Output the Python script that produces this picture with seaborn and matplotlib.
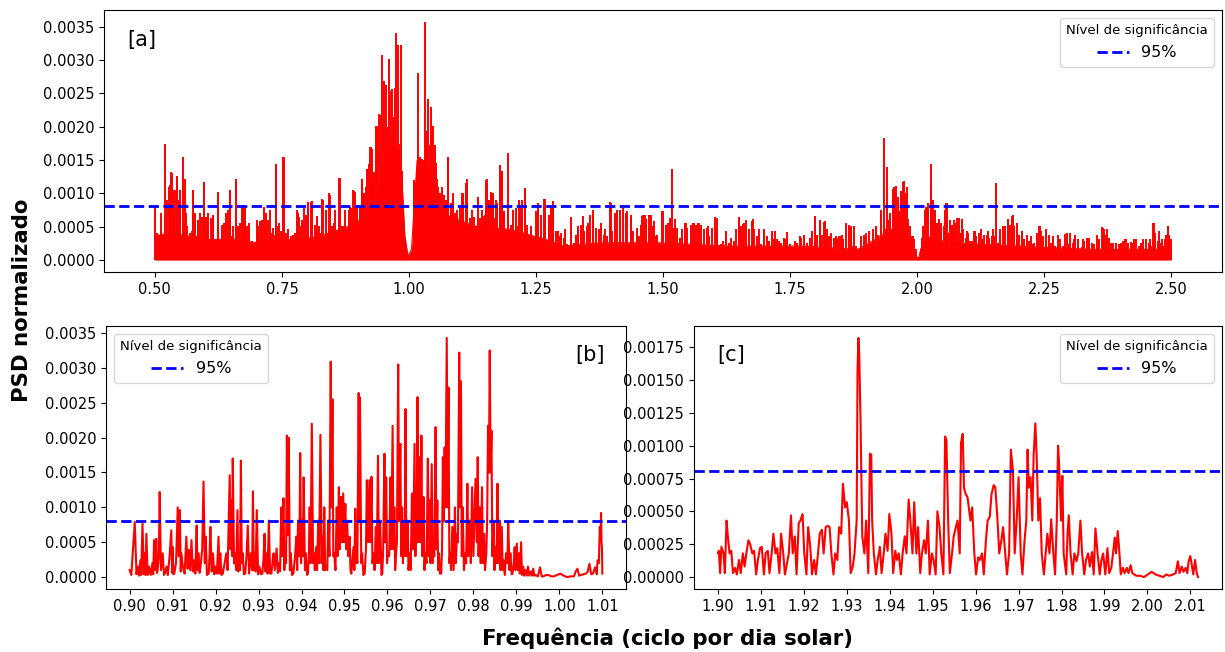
import numpy as np
import pandas as pd
import matplotlib
matplotlib.use("Agg")
import matplotlib.pyplot as plt
from matplotlib.ticker import MultipleLocator, FormatStrFormatter
import seaborn as sns

# ---------------- data ----------------
sig_level = 0.00081
legend_title = "Nível de significância"
legend_label = "95%"

# panel [a]: lower envelope of the dense periodogram
a_base_freq = [0.500, 0.530, 0.601, 0.671, 0.692, 0.741, 0.784, 0.826, 0.882, 0.917,
               0.938, 0.952, 0.966, 0.980, 0.987, 0.992, 0.998, 1.005, 1.010, 1.016,
               1.030, 1.044, 1.058, 1.079, 1.128, 1.198, 1.269, 1.304, 1.374, 1.444,
               1.492, 1.634, 1.776, 1.883, 1.918, 1.947, 1.975, 1.990, 2.002, 2.007,
               2.018, 2.061, 2.203, 2.345, 2.500]
a_base_psd = [0.00036, 0.00041, 0.00031, 0.00031, 0.00026, 0.00031, 0.00031, 0.00036, 0.00051, 0.00066,
              0.00095, 0.00149, 0.00174, 0.00164, 0.00110, 0.00036, 0.00006, 0.00016, 0.00075, 0.00149,
              0.00149, 0.00134, 0.00095, 0.00066, 0.00051, 0.00046, 0.00031, 0.00021, 0.00026, 0.00026,
              0.00026, 0.00021, 0.00021, 0.00016, 0.00031, 0.00046, 0.00041, 0.00021, 0.00000, 0.00016,
              0.00036, 0.00026, 0.00021, 0.00016, 0.00016]

# panel [a]: main peaks
a_peak_freq = [0.500, 0.509, 0.520, 0.527, 0.533, 0.537, 0.544, 0.550, 0.556, 0.562,
               0.575, 0.580, 0.587, 0.596, 0.604, 0.615, 0.625, 0.636, 0.648, 0.654,
               0.660, 0.666, 0.673, 0.678, 0.685, 0.692, 0.703, 0.715, 0.727, 0.739,
               0.745, 0.753, 0.762, 0.781, 0.794, 0.801, 0.810, 0.820, 0.829, 0.843,
               0.854, 0.864, 0.875, 0.884, 0.892, 0.903, 0.908, 0.912, 0.917, 0.923,
               0.928, 0.931, 0.935, 0.938, 0.942, 0.945, 0.947, 0.950, 0.952, 0.954,
               0.958, 0.961, 0.963, 0.966, 0.969, 0.972, 0.975, 0.978, 0.980, 0.985,
               0.987, 1.010, 1.013, 1.017, 1.020, 1.025, 1.028, 1.031, 1.035, 1.038,
               1.041, 1.044, 1.047, 1.051, 1.054, 1.058, 1.065, 1.072, 1.077, 1.086,
               1.093, 1.106, 1.115, 1.125, 1.135, 1.146, 1.153, 1.158, 1.163, 1.170,
               1.179, 1.183, 1.188, 1.195, 1.205, 1.216, 1.229, 1.240, 1.254, 1.267,
               1.276, 1.284, 1.297, 1.307, 1.318, 1.332, 1.342, 1.353, 1.363, 1.374,
               1.385, 1.397, 1.406, 1.416, 1.427, 1.437, 1.448, 1.458, 1.465, 1.479,
               1.486, 1.499, 1.517, 1.524, 1.545, 1.560, 1.570, 1.588, 1.606, 1.624,
               1.650, 1.659, 1.677, 1.698, 1.720, 1.741, 1.769, 1.799, 1.808, 1.819,
               1.840, 1.869, 1.890, 1.906, 1.919, 1.928, 1.934, 1.940, 1.947, 1.954,
               1.958, 1.963, 1.968, 1.975, 1.980, 1.982, 1.990, 1.997, 2.011, 2.017,
               2.022, 2.027, 2.031, 2.036, 2.043, 2.054, 2.059, 2.068, 2.078, 2.088,
               2.100, 2.114, 2.125, 2.139, 2.149, 2.155, 2.164, 2.178, 2.189, 2.196,
               2.206, 2.224, 2.242, 2.253, 2.267, 2.281, 2.295, 2.309, 2.327, 2.338,
               2.356, 2.366, 2.373, 2.391, 2.409, 2.427, 2.444, 2.459, 2.467, 2.476,
               2.487, 2.494, 2.500]
a_peak_psd = [0.00080, 0.00038, 0.00174, 0.00110, 0.00131, 0.00105, 0.00126, 0.00103, 0.00154, 0.00071,
              0.00105, 0.00071, 0.00043, 0.00116, 0.00071, 0.00066, 0.00101, 0.00056, 0.00105, 0.00051,
              0.00121, 0.00051, 0.00083, 0.00080, 0.00056, 0.00029, 0.00051, 0.00080, 0.00075, 0.00144,
              0.00056, 0.00154, 0.00046, 0.00071, 0.00080, 0.00086, 0.00088, 0.00066, 0.00092, 0.00100,
              0.00075, 0.00123, 0.00075, 0.00080, 0.00103, 0.00080, 0.00122, 0.00101, 0.00137, 0.00169,
              0.00167, 0.00125, 0.00201, 0.00201, 0.00219, 0.00218, 0.00307, 0.00268, 0.00194, 0.00263,
              0.00199, 0.00302, 0.00254, 0.00256, 0.00214, 0.00258, 0.00340, 0.00322, 0.00174, 0.00322,
              0.00134, 0.00116, 0.00115, 0.00281, 0.00152, 0.00152, 0.00145, 0.00357, 0.00194, 0.00241,
              0.00172, 0.00230, 0.00201, 0.00172, 0.00145, 0.00110, 0.00103, 0.00080, 0.00154, 0.00100,
              0.00071, 0.00101, 0.00121, 0.00075, 0.00095, 0.00066, 0.00121, 0.00090, 0.00101, 0.00063,
              0.00143, 0.00134, 0.00066, 0.00160, 0.00075, 0.00090, 0.00108, 0.00051, 0.00075, 0.00092,
              0.00068, 0.00088, 0.00036, 0.00046, 0.00041, 0.00046, 0.00066, 0.00056, 0.00068, 0.00036,
              0.00046, 0.00086, 0.00071, 0.00075, 0.00056, 0.00061, 0.00036, 0.00066, 0.00068, 0.00051,
              0.00036, 0.00073, 0.00136, 0.00061, 0.00056, 0.00056, 0.00056, 0.00051, 0.00063, 0.00043,
              0.00063, 0.00056, 0.00061, 0.00046, 0.00043, 0.00031, 0.00036, 0.00066, 0.00056, 0.00058,
              0.00036, 0.00051, 0.00036, 0.00043, 0.00051, 0.00075, 0.00183, 0.00140, 0.00071, 0.00110,
              0.00111, 0.00095, 0.00103, 0.00119, 0.00110, 0.00061, 0.00036, 0.00016, 0.00051, 0.00080,
              0.00085, 0.00144, 0.00090, 0.00075, 0.00061, 0.00075, 0.00085, 0.00051, 0.00063, 0.00062,
              0.00041, 0.00043, 0.00046, 0.00043, 0.00046, 0.00116, 0.00046, 0.00061, 0.00067, 0.00056,
              0.00043, 0.00036, 0.00051, 0.00046, 0.00036, 0.00031, 0.00041, 0.00031, 0.00031, 0.00033,
              0.00031, 0.00048, 0.00046, 0.00026, 0.00031, 0.00031, 0.00031, 0.00031, 0.00056, 0.00043,
              0.00031, 0.00051, 0.00031]

# panel [a]: secondary peaks (the dense "forest")
a_minor_freq = [0.5046, 0.5112, 0.5243, 0.5289, 0.5322, 0.5354, 0.5407, 0.5440, 0.5473, 0.5505,
                0.5591, 0.5637, 0.5683, 0.5722, 0.5755, 0.5801, 0.5847, 0.5886, 0.5932, 0.5965,
                0.6011, 0.6050, 0.6096, 0.6148, 0.6194, 0.6247, 0.6280, 0.6312, 0.6358, 0.6404,
                0.6437, 0.6477, 0.6522, 0.6562, 0.6601, 0.6641, 0.6680, 0.6719, 0.6772, 0.6818,
                0.6850, 0.6916, 0.6969, 0.7015, 0.7067, 0.7113, 0.7159, 0.7192, 0.7231, 0.7277,
                0.7323, 0.7362, 0.7389, 0.7428, 0.7474, 0.7533, 0.7572, 0.7625, 0.7671, 0.7717,
                0.7756, 0.7802, 0.7835, 0.7868, 0.7900, 0.7946, 0.7979, 0.8019, 0.8064, 0.8097,
                0.8143, 0.8182, 0.8228, 0.8268, 0.8314, 0.8360, 0.8406, 0.8438, 0.8478, 0.8530,
                0.8576, 0.8622, 0.8675, 0.8721, 0.8766, 0.8819, 0.8865, 0.8898, 0.8937, 0.8983,
                0.9029, 0.9068, 0.9108, 0.9147, 0.9180, 0.9213, 0.9246, 0.9278, 0.9318, 1.0098,
                1.0131, 1.0164, 1.0210, 1.0249, 1.0295, 1.0328, 1.0361, 1.0394, 1.0459, 1.0492,
                1.0525, 1.0558, 1.0604, 1.0643, 1.0689, 1.0735, 1.0774, 1.0820, 1.0866, 1.0906,
                1.0951, 1.0997, 1.1037, 1.1070, 1.1116, 1.1148, 1.1194, 1.1234, 1.1280, 1.1312,
                1.1358, 1.1398, 1.1444, 1.1496, 1.1522, 1.1575, 1.1621, 1.1660, 1.1706, 1.1725,
                1.1791, 1.1824, 1.1870, 1.2001, 1.2047, 1.2100, 1.2132, 1.2198, 1.2231, 1.2283,
                1.2329, 1.2395, 1.2447, 1.2506, 1.2546, 1.2592, 1.2657, 1.2710, 1.2756, 1.2788,
                1.2834, 1.2887, 1.2933, 1.2985, 1.3051, 1.3103, 1.3182, 1.3248, 1.3294, 1.3333,
                1.3392, 1.3445, 1.3497, 1.3563, 1.3628, 1.3674, 1.3740, 1.3786, 1.3838, 1.3904,
                1.3956, 1.4002, 1.4088, 1.4153, 1.4219, 1.4265, 1.4298, 1.4363, 1.4416, 1.4481,
                1.4527, 1.4560, 1.4613, 1.4659, 1.4724, 1.4757, 1.4823, 1.4875, 1.4934, 1.4987,
                1.5052, 1.5098, 1.5138, 1.5216, 1.5282, 1.5334, 1.5380, 1.5426, 1.5479, 1.5544,
                1.5597, 1.5643, 1.5689, 1.5741, 1.5807, 1.5859, 1.5905, 1.5971, 1.6023, 1.6069,
                1.6135, 1.6187, 1.6233, 1.6299, 1.6345, 1.6397, 1.6443, 1.6496, 1.6542, 1.6581,
                1.6627, 1.6693, 1.6745, 1.6791, 1.6844, 1.6890, 1.6935, 1.6988, 1.7040, 1.7093,
                1.7139, 1.7185, 1.7237, 1.7283, 1.7329, 1.7382, 1.7447, 1.7500, 1.7546, 1.7598,
                1.7644, 1.7710, 1.7775, 1.7841, 1.7893, 1.7939, 1.7985, 1.8025, 1.8084, 1.8136,
                1.8169, 1.8222, 1.8268, 1.8313, 1.8366, 1.8419, 1.8465, 1.8498, 1.8530, 1.8544,
                1.8609, 1.8662, 1.8714, 1.8760, 1.8806, 1.8859, 1.8905, 1.8957, 1.9003, 1.9056,
                1.9101, 1.9141, 1.9187, 1.9239, 1.9285, 1.9384, 1.9436, 1.9482, 1.9528, 1.9567,
                1.9613, 1.9646, 1.9685, 1.9731, 1.9777, 1.9810, 1.9856, 1.9909, 1.9941, 1.9987,
                2.0027, 2.0073, 2.0105, 2.0145, 2.0191, 2.0269, 2.0302, 2.0348, 2.0388, 2.0434,
                2.0473, 2.0532, 2.0565, 2.0611, 2.0650, 2.0683, 2.0729, 2.0762, 2.0814, 2.0860,
                2.0906, 2.0958, 2.0991, 2.1037, 2.1077, 2.1122, 2.1168, 2.1221, 2.1273, 2.1319,
                2.1365, 2.1418, 2.1464, 2.1503, 2.1582, 2.1634, 2.1680, 2.1726, 2.1779, 2.1825,
                2.1864, 2.1910, 2.1956, 2.2008, 2.2061, 2.2107, 2.2153, 2.2205, 2.2251, 2.2304,
                2.2350, 2.2389, 2.2435, 2.2481, 2.2533, 2.2586, 2.2632, 2.2678, 2.2717, 2.2763,
                2.2809, 2.2861, 2.2907, 2.2960, 2.3012, 2.3058, 2.3111, 2.3157, 2.3203, 2.3242,
                2.3288, 2.3334, 2.3386, 2.3432, 2.3485, 2.3531, 2.3583, 2.3636, 2.3682, 2.3714,
                2.3767, 2.3813, 2.3859, 2.3911, 2.3964, 2.4010, 2.4056, 2.4108, 2.4154, 2.4206,
                2.4252, 2.4305, 2.4357, 2.4403, 2.4449, 2.4502, 2.4554, 2.4600, 2.4646, 2.4685,
                2.4731, 2.4777, 2.4817, 2.4863, 2.4895, 2.4928, 2.4961, 2.4994]
a_minor_psd = [0.00041, 0.00070, 0.00090, 0.00112, 0.00132, 0.00068, 0.00105, 0.00125, 0.00090, 0.00105,
               0.00122, 0.00051, 0.00041, 0.00043, 0.00105, 0.00036, 0.00060, 0.00070, 0.00065, 0.00117,
               0.00065, 0.00060, 0.00063, 0.00068, 0.00031, 0.00102, 0.00021, 0.00053, 0.00041, 0.00070,
               0.00075, 0.00105, 0.00036, 0.00031, 0.00121, 0.00051, 0.00056, 0.00080, 0.00070, 0.00051,
               0.00031, 0.00028, 0.00026, 0.00060, 0.00058, 0.00060, 0.00046, 0.00070, 0.00060, 0.00041,
               0.00048, 0.00038, 0.00144, 0.00051, 0.00043, 0.00154, 0.00041, 0.00036, 0.00036, 0.00038,
               0.00041, 0.00075, 0.00065, 0.00051, 0.00060, 0.00051, 0.00068, 0.00087, 0.00087, 0.00065,
               0.00053, 0.00065, 0.00051, 0.00041, 0.00090, 0.00075, 0.00041, 0.00098, 0.00051, 0.00056,
               0.00041, 0.00123, 0.00051, 0.00051, 0.00041, 0.00075, 0.00078, 0.00105, 0.00102, 0.00080,
               0.00075, 0.00122, 0.00100, 0.00110, 0.00136, 0.00144, 0.00169, 0.00115, 0.00132, 0.00120,
               0.00115, 0.00137, 0.00154, 0.00151, 0.00149, 0.00191, 0.00169, 0.00134, 0.00198, 0.00159,
               0.00124, 0.00122, 0.00100, 0.00110, 0.00097, 0.00090, 0.00154, 0.00085, 0.00090, 0.00070,
               0.00075, 0.00078, 0.00100, 0.00097, 0.00115, 0.00080, 0.00063, 0.00060, 0.00065, 0.00051,
               0.00060, 0.00063, 0.00075, 0.00068, 0.00120, 0.00090, 0.00102, 0.00101, 0.00090, 0.00085,
               0.00142, 0.00134, 0.00073, 0.00053, 0.00056, 0.00078, 0.00051, 0.00078, 0.00090, 0.00107,
               0.00053, 0.00048, 0.00033, 0.00074, 0.00085, 0.00068, 0.00092, 0.00024, 0.00048, 0.00078,
               0.00087, 0.00043, 0.00043, 0.00041, 0.00033, 0.00024, 0.00065, 0.00026, 0.00038, 0.00051,
               0.00052, 0.00043, 0.00051, 0.00068, 0.00075, 0.00048, 0.00046, 0.00056, 0.00038, 0.00036,
               0.00087, 0.00043, 0.00075, 0.00063, 0.00078, 0.00070, 0.00073, 0.00067, 0.00043, 0.00048,
               0.00036, 0.00053, 0.00068, 0.00062, 0.00067, 0.00068, 0.00058, 0.00038, 0.00024, 0.00074,
               0.00053, 0.00056, 0.00063, 0.00048, 0.00048, 0.00033, 0.00046, 0.00056, 0.00048, 0.00053,
               0.00056, 0.00053, 0.00056, 0.00053, 0.00046, 0.00048, 0.00036, 0.00048, 0.00065, 0.00043,
               0.00024, 0.00028, 0.00031, 0.00026, 0.00033, 0.00028, 0.00046, 0.00064, 0.00051, 0.00054,
               0.00060, 0.00046, 0.00059, 0.00046, 0.00036, 0.00046, 0.00024, 0.00043, 0.00036, 0.00028,
               0.00043, 0.00031, 0.00031, 0.00028, 0.00026, 0.00033, 0.00042, 0.00024, 0.00019, 0.00028,
               0.00026, 0.00033, 0.00038, 0.00026, 0.00033, 0.00043, 0.00065, 0.00038, 0.00060, 0.00038,
               0.00057, 0.00046, 0.00036, 0.00041, 0.00033, 0.00033, 0.00036, 0.00036, 0.00038, 0.00031,
               0.00056, 0.00053, 0.00021, 0.00051, 0.00021, 0.00016, 0.00021, 0.00038, 0.00041, 0.00031,
               0.00021, 0.00046, 0.00050, 0.00038, 0.00070, 0.00046, 0.00060, 0.00046, 0.00107, 0.00110,
               0.00065, 0.00073, 0.00097, 0.00117, 0.00100, 0.00075, 0.00051, 0.00036, 0.00031, 0.00006,
               0.00004, 0.00016, 0.00033, 0.00075, 0.00078, 0.00110, 0.00090, 0.00060, 0.00056, 0.00051,
               0.00056, 0.00051, 0.00085, 0.00041, 0.00060, 0.00053, 0.00060, 0.00056, 0.00063, 0.00041,
               0.00046, 0.00033, 0.00043, 0.00028, 0.00028, 0.00043, 0.00036, 0.00041, 0.00031, 0.00038,
               0.00038, 0.00033, 0.00036, 0.00036, 0.00026, 0.00036, 0.00051, 0.00051, 0.00060, 0.00053,
               0.00066, 0.00051, 0.00041, 0.00038, 0.00043, 0.00031, 0.00038, 0.00028, 0.00024, 0.00026,
               0.00041, 0.00051, 0.00043, 0.00036, 0.00031, 0.00038, 0.00026, 0.00031, 0.00021, 0.00038,
               0.00021, 0.00021, 0.00039, 0.00024, 0.00041, 0.00026, 0.00038, 0.00031, 0.00016, 0.00019,
               0.00028, 0.00033, 0.00024, 0.00026, 0.00024, 0.00038, 0.00031, 0.00050, 0.00046, 0.00038,
               0.00033, 0.00026, 0.00026, 0.00024, 0.00024, 0.00026, 0.00028, 0.00031, 0.00026, 0.00027,
               0.00026, 0.00031, 0.00021, 0.00026, 0.00021, 0.00031, 0.00026, 0.00021, 0.00056, 0.00041,
               0.00028, 0.00026, 0.00031, 0.00021, 0.00038, 0.00051, 0.00038, 0.00016]

# panel [b]: 0.90 - 1.01 c/d
b_freq = [0.9000, 0.9004, 0.9012, 0.9016, 0.9019, 0.9022, 0.9025, 0.9027, 0.9030, 0.9033,
          0.9035, 0.9037, 0.9039, 0.9042, 0.9045, 0.9049, 0.9053, 0.9055, 0.9057, 0.9060,
          0.9062, 0.9064, 0.9066, 0.9068, 0.9070, 0.9073, 0.9077, 0.9080, 0.9082, 0.9086,
          0.9089, 0.9093, 0.9097, 0.9099, 0.9100, 0.9102, 0.9104, 0.9108, 0.9112, 0.9114,
          0.9117, 0.9119, 0.9120, 0.9124, 0.9128, 0.9132, 0.9135, 0.9138, 0.9141, 0.9144,
          0.9147, 0.9150, 0.9153, 0.9156, 0.9158, 0.9160, 0.9163, 0.9165, 0.9169, 0.9172,
          0.9175, 0.9177, 0.9180, 0.9184, 0.9186, 0.9188, 0.9191, 0.9194, 0.9197, 0.9199,
          0.9203, 0.9207, 0.9209, 0.9211, 0.9214, 0.9217, 0.9221, 0.9225, 0.9228, 0.9233,
          0.9235, 0.9237, 0.9239, 0.9240, 0.9243, 0.9245, 0.9248, 0.9251, 0.9253, 0.9255,
          0.9257, 0.9259, 0.9261, 0.9263, 0.9266, 0.9269, 0.9272, 0.9275, 0.9278, 0.9282,
          0.9285, 0.9287, 0.9289, 0.9291, 0.9293, 0.9296, 0.9299, 0.9302, 0.9306, 0.9309,
          0.9312, 0.9314, 0.9316, 0.9318, 0.9321, 0.9324, 0.9327, 0.9330, 0.9333, 0.9335,
          0.9338, 0.9342, 0.9345, 0.9347, 0.9350, 0.9353, 0.9355, 0.9358, 0.9360, 0.9362,
          0.9364, 0.9366, 0.9368, 0.9370, 0.9373, 0.9375, 0.9378, 0.9381, 0.9385, 0.9388,
          0.9390, 0.9392, 0.9395, 0.9397, 0.9399, 0.9402, 0.9403, 0.9405, 0.9408, 0.9410,
          0.9413, 0.9415, 0.9417, 0.9419, 0.9421, 0.9424, 0.9427, 0.9429, 0.9431, 0.9434,
          0.9436, 0.9439, 0.9441, 0.9444, 0.9447, 0.9449, 0.9451, 0.9453, 0.9455, 0.9457,
          0.9460, 0.9462, 0.9465, 0.9468, 0.9470, 0.9472, 0.9474, 0.9476, 0.9479, 0.9482,
          0.9484, 0.9487, 0.9489, 0.9492, 0.9494, 0.9497, 0.9499, 0.9502, 0.9504, 0.9506,
          0.9509, 0.9512, 0.9514, 0.9516, 0.9518, 0.9521, 0.9523, 0.9525, 0.9527, 0.9528,
          0.9530, 0.9533, 0.9535, 0.9536, 0.9539, 0.9541, 0.9544, 0.9547, 0.9550, 0.9552,
          0.9555, 0.9558, 0.9560, 0.9563, 0.9565, 0.9568, 0.9570, 0.9573, 0.9575, 0.9578,
          0.9580, 0.9583, 0.9586, 0.9588, 0.9590, 0.9593, 0.9595, 0.9597, 0.9599, 0.9601,
          0.9604, 0.9607, 0.9609, 0.9612, 0.9614, 0.9616, 0.9618, 0.9620, 0.9622, 0.9625,
          0.9627, 0.9630, 0.9632, 0.9634, 0.9636, 0.9638, 0.9640, 0.9642, 0.9644, 0.9647,
          0.9649, 0.9652, 0.9654, 0.9657, 0.9660, 0.9663, 0.9665, 0.9667, 0.9668, 0.9670,
          0.9672, 0.9675, 0.9677, 0.9679, 0.9681, 0.9684, 0.9686, 0.9688, 0.9691, 0.9694,
          0.9696, 0.9698, 0.9700, 0.9703, 0.9705, 0.9707, 0.9709, 0.9712, 0.9714, 0.9716,
          0.9718, 0.9720, 0.9722, 0.9725, 0.9727, 0.9729, 0.9731, 0.9733, 0.9735, 0.9738,
          0.9740, 0.9742, 0.9744, 0.9746, 0.9748, 0.9751, 0.9754, 0.9757, 0.9759, 0.9762,
          0.9764, 0.9767, 0.9769, 0.9771, 0.9773, 0.9775, 0.9778, 0.9781, 0.9783, 0.9786,
          0.9788, 0.9791, 0.9794, 0.9797, 0.9800, 0.9803, 0.9805, 0.9808, 0.9810, 0.9812,
          0.9815, 0.9817, 0.9820, 0.9822, 0.9825, 0.9827, 0.9830, 0.9832, 0.9834, 0.9836,
          0.9838, 0.9840, 0.9842, 0.9844, 0.9847, 0.9849, 0.9851, 0.9854, 0.9856, 0.9858,
          0.9861, 0.9863, 0.9866, 0.9868, 0.9870, 0.9873, 0.9876, 0.9879, 0.9881, 0.9884,
          0.9886, 0.9889, 0.9891, 0.9894, 0.9896, 0.9898, 0.9901, 0.9903, 0.9906, 0.9908,
          0.9911, 0.9913, 0.9916, 0.9918, 0.9921, 0.9924, 0.9927, 0.9930, 0.9934, 0.9937,
          0.9939, 0.9942, 0.9945, 0.9950, 0.9955, 0.9959, 0.9963, 0.9969, 0.9975, 0.9981,
          0.9987, 0.9995, 1.0002, 1.0010, 1.0018, 1.0026, 1.0034, 1.0038, 1.0042, 1.0046,
          1.0050, 1.0056, 1.0062, 1.0066, 1.0070, 1.0074, 1.0078, 1.0081, 1.0084, 1.0087,
          1.0089, 1.0092, 1.0094, 1.0096, 1.0097, 1.0098, 1.0099, 1.0100]
b_psd = [0.00010, 0.00003, 0.00079, 0.00004, 0.00015, 0.00002, 0.00024, 0.00003, 0.00077, 0.00004,
         0.00034, 0.00003, 0.00062, 0.00003, 0.00015, 0.00003, 0.00020, 0.00004, 0.00053, 0.00010,
         0.00055, 0.00006, 0.00015, 0.00030, 0.00122, 0.00010, 0.00034, 0.00003, 0.00005, 0.00015,
         0.00003, 0.00030, 0.00067, 0.00006, 0.00043, 0.00004, 0.00005, 0.00020, 0.00100, 0.00030,
         0.00096, 0.00008, 0.00034, 0.00015, 0.00005, 0.00058, 0.00012, 0.00039, 0.00010, 0.00053,
         0.00008, 0.00024, 0.00005, 0.00074, 0.00010, 0.00034, 0.00006, 0.00015, 0.00040, 0.00137,
         0.00020, 0.00058, 0.00003, 0.00005, 0.00030, 0.00072, 0.00008, 0.00034, 0.00004, 0.00015,
         0.00005, 0.00058, 0.00005, 0.00034, 0.00003, 0.00005, 0.00020, 0.00034, 0.00010, 0.00146,
         0.00040, 0.00110, 0.00030, 0.00170, 0.00020, 0.00034, 0.00010, 0.00096, 0.00008, 0.00034,
         0.00010, 0.00167, 0.00020, 0.00034, 0.00004, 0.00005, 0.00030, 0.00074, 0.00005, 0.00034,
         0.00010, 0.00123, 0.00010, 0.00034, 0.00008, 0.00096, 0.00004, 0.00015, 0.00004, 0.00005,
         0.00030, 0.00062, 0.00008, 0.00034, 0.00005, 0.00081, 0.00005, 0.00005, 0.00025, 0.00034,
         0.00010, 0.00041, 0.00006, 0.00020, 0.00008, 0.00100, 0.00030, 0.00113, 0.00010, 0.00034,
         0.00020, 0.00203, 0.00060, 0.00200, 0.00010, 0.00034, 0.00003, 0.00005, 0.00030, 0.00058,
         0.00010, 0.00081, 0.00030, 0.00178, 0.00020, 0.00081, 0.00030, 0.00143, 0.00010, 0.00034,
         0.00003, 0.00005, 0.00030, 0.00100, 0.00020, 0.00220, 0.00020, 0.00034, 0.00010, 0.00043,
         0.00010, 0.00081, 0.00020, 0.00204, 0.00020, 0.00058, 0.00010, 0.00100, 0.00010, 0.00015,
         0.00010, 0.00081, 0.00030, 0.00309, 0.00100, 0.00255, 0.00030, 0.00034, 0.00010, 0.00100,
         0.00030, 0.00129, 0.00040, 0.00115, 0.00050, 0.00120, 0.00050, 0.00105, 0.00040, 0.00081,
         0.00030, 0.00058, 0.00010, 0.00005, 0.00020, 0.00043, 0.00010, 0.00098, 0.00020, 0.00034,
         0.00020, 0.00264, 0.00080, 0.00258, 0.00020, 0.00034, 0.00003, 0.00005, 0.00040, 0.00139,
         0.00050, 0.00139, 0.00050, 0.00144, 0.00020, 0.00034, 0.00010, 0.00072, 0.00020, 0.00174,
         0.00020, 0.00081, 0.00003, 0.00005, 0.00040, 0.00177, 0.00050, 0.00143, 0.00020, 0.00034,
         0.00030, 0.00143, 0.00040, 0.00217, 0.00040, 0.00100, 0.00010, 0.00034, 0.00050, 0.00305,
         0.00080, 0.00191, 0.00030, 0.00100, 0.00020, 0.00074, 0.00030, 0.00241, 0.00030, 0.00081,
         0.00010, 0.00034, 0.00010, 0.00120, 0.00040, 0.00191, 0.00030, 0.00100, 0.00050, 0.00258,
         0.00050, 0.00172, 0.00050, 0.00203, 0.00030, 0.00115, 0.00010, 0.00034, 0.00020, 0.00170,
         0.00030, 0.00110, 0.00020, 0.00162, 0.00020, 0.00034, 0.00030, 0.00215, 0.00040, 0.00110,
         0.00010, 0.00034, 0.00005, 0.00005, 0.00040, 0.00172, 0.00080, 0.00186, 0.00100, 0.00343,
         0.00100, 0.00272, 0.00020, 0.00034, 0.00010, 0.00072, 0.00010, 0.00100, 0.00020, 0.00062,
         0.00050, 0.00322, 0.00100, 0.00281, 0.00030, 0.00100, 0.00010, 0.00034, 0.00020, 0.00134,
         0.00030, 0.00081, 0.00020, 0.00129, 0.00030, 0.00100, 0.00141, 0.00050, 0.00172, 0.00030,
         0.00100, 0.00020, 0.00129, 0.00020, 0.00062, 0.00010, 0.00034, 0.00080, 0.00217, 0.00150,
         0.00325, 0.00150, 0.00210, 0.00030, 0.00081, 0.00010, 0.00043, 0.00020, 0.00134, 0.00020,
         0.00081, 0.00010, 0.00072, 0.00010, 0.00024, 0.00003, 0.00034, 0.00020, 0.00079, 0.00010,
         0.00034, 0.00004, 0.00005, 0.00020, 0.00043, 0.00010, 0.00048, 0.00010, 0.00034, 0.00005,
         0.00050, 0.00003, 0.00015, 0.00002, 0.00010, 0.00002, 0.00015, 0.00002, 0.00008, 0.00002,
         0.00012, 0.00002, 0.00003, 0.00001, 0.00014, 0.00001, 0.00001, 0.00003, 0.00003, 0.00001,
         0.00001, 0.00003, 0.00005, 0.00002, 0.00000, 0.00001, 0.00001, 0.00008, 0.00012, 0.00002,
         0.00003, 0.00004, 0.00005, 0.00008, 0.00019, 0.00004, 0.00005, 0.00010, 0.00014, 0.00004,
         0.00024, 0.00020, 0.00072, 0.00060, 0.00092, 0.00050, 0.00043, 0.00005]

# panel [c]: 1.90 - 2.01 c/d
c_freq = [1.9000, 1.9002, 1.9005, 1.9008, 1.9013, 1.9016, 1.9020, 1.9023, 1.9027, 1.9031,
          1.9035, 1.9040, 1.9044, 1.9049, 1.9053, 1.9058, 1.9062, 1.9067, 1.9071, 1.9075,
          1.9080, 1.9084, 1.9089, 1.9093, 1.9098, 1.9102, 1.9107, 1.9111, 1.9116, 1.9120,
          1.9125, 1.9129, 1.9134, 1.9138, 1.9143, 1.9147, 1.9152, 1.9156, 1.9165, 1.9170,
          1.9174, 1.9179, 1.9183, 1.9188, 1.9192, 1.9197, 1.9201, 1.9206, 1.9210, 1.9215,
          1.9219, 1.9224, 1.9228, 1.9233, 1.9237, 1.9242, 1.9246, 1.9251, 1.9255, 1.9260,
          1.9264, 1.9269, 1.9273, 1.9278, 1.9282, 1.9287, 1.9291, 1.9296, 1.9300, 1.9305,
          1.9309, 1.9314, 1.9318, 1.9323, 1.9325, 1.9327, 1.9329, 1.9332, 1.9336, 1.9341,
          1.9345, 1.9350, 1.9354, 1.9357, 1.9359, 1.9363, 1.9368, 1.9372, 1.9377, 1.9381,
          1.9386, 1.9390, 1.9395, 1.9399, 1.9404, 1.9408, 1.9413, 1.9417, 1.9421, 1.9426,
          1.9430, 1.9435, 1.9439, 1.9444, 1.9448, 1.9453, 1.9457, 1.9462, 1.9466, 1.9471,
          1.9475, 1.9480, 1.9484, 1.9489, 1.9493, 1.9498, 1.9502, 1.9507, 1.9511, 1.9516,
          1.9520, 1.9525, 1.9529, 1.9532, 1.9536, 1.9540, 1.9545, 1.9549, 1.9554, 1.9558,
          1.9563, 1.9566, 1.9570, 1.9573, 1.9577, 1.9581, 1.9584, 1.9588, 1.9592, 1.9597,
          1.9601, 1.9606, 1.9610, 1.9615, 1.9619, 1.9624, 1.9628, 1.9633, 1.9637, 1.9642,
          1.9646, 1.9651, 1.9655, 1.9660, 1.9664, 1.9669, 1.9673, 1.9678, 1.9682, 1.9687,
          1.9691, 1.9696, 1.9700, 1.9705, 1.9709, 1.9714, 1.9718, 1.9721, 1.9724, 1.9728,
          1.9732, 1.9735, 1.9739, 1.9742, 1.9746, 1.9750, 1.9754, 1.9759, 1.9763, 1.9767,
          1.9772, 1.9776, 1.9781, 1.9785, 1.9789, 1.9792, 1.9794, 1.9799, 1.9802, 1.9805,
          1.9811, 1.9814, 1.9817, 1.9821, 1.9826, 1.9830, 1.9835, 1.9839, 1.9844, 1.9848,
          1.9853, 1.9857, 1.9862, 1.9866, 1.9871, 1.9875, 1.9879, 1.9884, 1.9889, 1.9893,
          1.9897, 1.9902, 1.9907, 1.9911, 1.9916, 1.9920, 1.9924, 1.9927, 1.9931, 1.9935,
          1.9938, 1.9943, 1.9947, 1.9952, 1.9956, 1.9961, 1.9965, 1.9974, 1.9983, 1.9992,
          2.0001, 2.0010, 2.0019, 2.0028, 2.0037, 2.0044, 2.0051, 2.0060, 2.0066, 2.0071,
          2.0075, 2.0080, 2.0084, 2.0089, 2.0093, 2.0096, 2.0100, 2.0104, 2.0107, 2.0111,
          2.0115, 2.0118]
c_psd = [0.00018, 0.00020, 0.00003, 0.00023, 0.00018, 0.00003, 0.00043, 0.00031, 0.00018, 0.00020,
         0.00003, 0.00007, 0.00002, 0.00013, 0.00003, 0.00018, 0.00008, 0.00020, 0.00028, 0.00025,
         0.00018, 0.00020, 0.00002, 0.00013, 0.00022, 0.00023, 0.00002, 0.00018, 0.00020, 0.00003,
         0.00018, 0.00033, 0.00018, 0.00022, 0.00003, 0.00033, 0.00018, 0.00002, 0.00018, 0.00047,
         0.00018, 0.00031, 0.00002, 0.00041, 0.00043, 0.00048, 0.00018, 0.00002, 0.00038, 0.00023,
         0.00002, 0.00013, 0.00002, 0.00018, 0.00033, 0.00036, 0.00018, 0.00038, 0.00039, 0.00038,
         0.00018, 0.00002, 0.00018, 0.00013, 0.00038, 0.00033, 0.00071, 0.00053, 0.00057, 0.00043,
         0.00003, 0.00008, 0.00018, 0.00043, 0.00157, 0.00182, 0.00169, 0.00119, 0.00031, 0.00018,
         0.00043, 0.00003, 0.00094, 0.00093, 0.00043, 0.00018, 0.00002, 0.00013, 0.00023, 0.00003,
         0.00018, 0.00033, 0.00020, 0.00048, 0.00033, 0.00003, 0.00020, 0.00013, 0.00018, 0.00002,
         0.00018, 0.00031, 0.00018, 0.00059, 0.00043, 0.00018, 0.00057, 0.00018, 0.00038, 0.00003,
         0.00018, 0.00028, 0.00018, 0.00043, 0.00002, 0.00018, 0.00013, 0.00002, 0.00050, 0.00038,
         0.00018, 0.00002, 0.00107, 0.00104, 0.00043, 0.00003, 0.00018, 0.00031, 0.00038, 0.00043,
         0.00018, 0.00102, 0.00109, 0.00068, 0.00063, 0.00061, 0.00053, 0.00043, 0.00053, 0.00018,
         0.00002, 0.00015, 0.00013, 0.00018, 0.00002, 0.00028, 0.00043, 0.00046, 0.00063, 0.00070,
         0.00068, 0.00043, 0.00018, 0.00028, 0.00038, 0.00018, 0.00002, 0.00018, 0.00097, 0.00081,
         0.00018, 0.00046, 0.00076, 0.00018, 0.00002, 0.00028, 0.00043, 0.00097, 0.00068, 0.00076,
         0.00043, 0.00092, 0.00117, 0.00094, 0.00043, 0.00060, 0.00018, 0.00002, 0.00018, 0.00033,
         0.00018, 0.00044, 0.00018, 0.00002, 0.00043, 0.00100, 0.00089, 0.00043, 0.00077, 0.00018,
         0.00002, 0.00033, 0.00047, 0.00018, 0.00002, 0.00018, 0.00012, 0.00018, 0.00043, 0.00018,
         0.00002, 0.00013, 0.00018, 0.00008, 0.00019, 0.00002, 0.00037, 0.00018, 0.00002, 0.00013,
         0.00018, 0.00002, 0.00022, 0.00003, 0.00007, 0.00018, 0.00030, 0.00018, 0.00035, 0.00018,
         0.00002, 0.00007, 0.00003, 0.00007, 0.00003, 0.00009, 0.00003, 0.00001, 0.00001, 0.00000,
         0.00002, 0.00004, 0.00002, 0.00001, 0.00000, 0.00002, 0.00001, 0.00002, 0.00003, 0.00012,
         0.00003, 0.00008, 0.00004, 0.00007, 0.00003, 0.00012, 0.00016, 0.00008, 0.00002, 0.00013,
         0.00003, 0.00000]

# ---------------- figure ----------------
RED = "#ff0000"
BLUE = "#0000ff"
plt.rcParams["font.family"] = ["DejaVu Sans"]

fig = plt.figure(figsize=(12.25, 6.52), dpi=100)
ax_a = fig.add_axes([0.0849, 0.5828, 0.9127, 0.4019])
ax_b = fig.add_axes([0.0865, 0.0966, 0.4245, 0.4034])
ax_c = fig.add_axes([0.5665, 0.0966, 0.4311, 0.4034])

# panel a: dense periodogram = envelope fill + individual peaks
ax_a.fill_between(a_base_freq, 0, a_base_psd, color=RED, lw=0)
ax_a.vlines(a_minor_freq, 0, a_minor_psd, color=RED, lw=1.4)
ax_a.vlines(a_peak_freq, 0, a_peak_psd, color=RED, lw=1.4)
sns.lineplot(x=a_base_freq, y=a_base_psd, ax=ax_a, color=RED, lw=0.8, estimator=None, sort=False)

# panels b and c
df_b = pd.DataFrame({"f": b_freq, "p": b_psd})
df_c = pd.DataFrame({"f": c_freq, "p": c_psd})
sns.lineplot(data=df_b, x="f", y="p", ax=ax_b, color=RED, lw=1.5, estimator=None, sort=False)
sns.lineplot(data=df_c, x="f", y="p", ax=ax_c, color=RED, lw=1.5, estimator=None, sort=False)

for ax, loc in [(ax_a, "upper right"), (ax_b, "upper left"), (ax_c, "upper right")]:
    ax.axhline(sig_level, color=BLUE, ls="--", lw=2, label=legend_label)
    ax.set_xlabel("")
    ax.set_ylabel("")
    ax.tick_params(labelsize=10.5)
    handles = [h for h in ax.get_lines() if h.get_label() == legend_label]
    ax.legend(handles=handles, labels=[legend_label], title=legend_title,
              loc=loc, fontsize=11.5, title_fontsize=9.5)

ax_a.xaxis.set_major_locator(MultipleLocator(0.25))
ax_b.xaxis.set_major_locator(MultipleLocator(0.01))
ax_c.xaxis.set_major_locator(MultipleLocator(0.01))
ax_a.yaxis.set_major_locator(MultipleLocator(0.0005))
ax_b.yaxis.set_major_locator(MultipleLocator(0.0005))
ax_c.yaxis.set_major_locator(MultipleLocator(0.00025))
for ax in (ax_a, ax_b, ax_c):
    ax.xaxis.set_major_formatter(FormatStrFormatter("%.2f"))
ax_a.yaxis.set_major_formatter(FormatStrFormatter("%.4f"))
ax_b.yaxis.set_major_formatter(FormatStrFormatter("%.4f"))
ax_c.yaxis.set_major_formatter(FormatStrFormatter("%.5f"))

ax_a.text(0.021, 0.885, "[a]", transform=ax_a.transAxes, fontsize=15, ha="left", va="center")
ax_b.text(0.902, 0.89, "[b]", transform=ax_b.transAxes, fontsize=15, ha="left", va="center")
ax_c.text(0.045, 0.89, "[c]", transform=ax_c.transAxes, fontsize=15, ha="left", va="center")

fig.text(0.545, 0.0215, "Frequência (ciclo por dia solar)", fontsize=15.3, fontweight="bold",
         ha="center", va="center")
fig.text(0.018, 0.54, "PSD normalizado", fontsize=15.3, fontweight="bold",
         ha="center", va="center", rotation=90)

fig.savefig("out.png", dpi=100)
